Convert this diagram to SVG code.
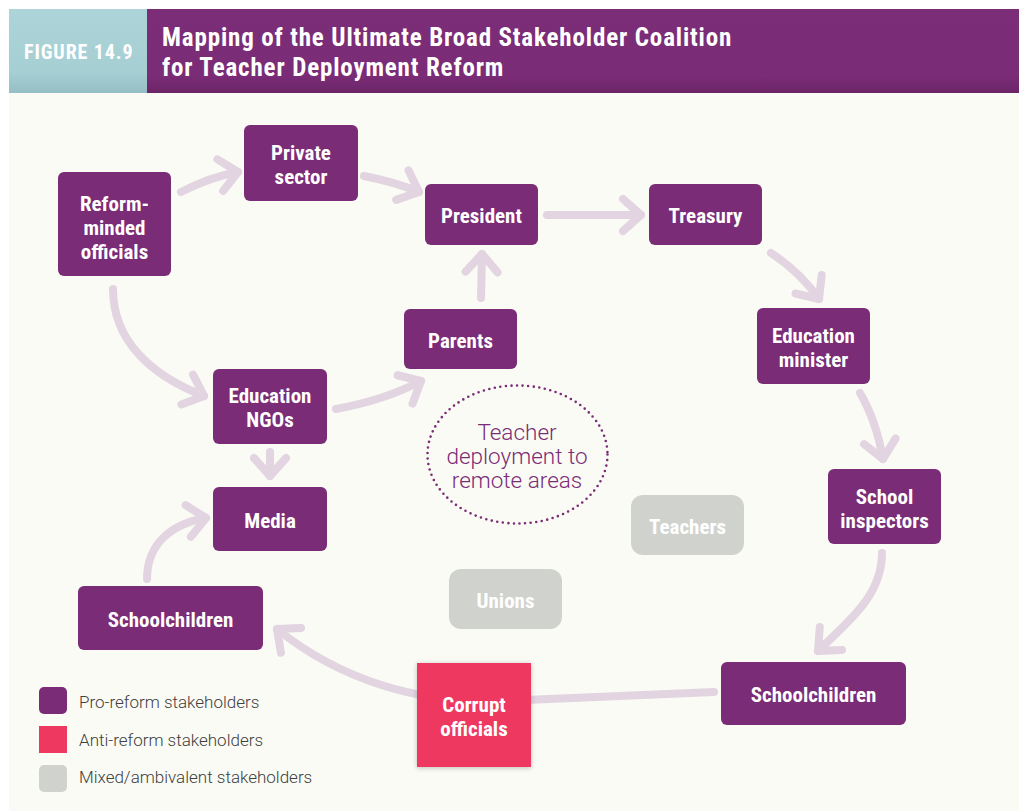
<svg xmlns="http://www.w3.org/2000/svg" width="1019" height="811" viewBox="0 0 1019 811">
<defs>
<linearGradient id="figGrad" x1="0" y1="0" x2="0" y2="1">
<stop offset="0" stop-color="#acd4d9"/><stop offset="0.75" stop-color="#a6cfd4"/><stop offset="1" stop-color="#96bfc5"/>
</linearGradient>
<linearGradient id="titleGrad" x1="0" y1="0" x2="0" y2="1">
<stop offset="0" stop-color="#7c2d78"/><stop offset="0.8" stop-color="#7a2c76"/><stop offset="1" stop-color="#6c2468"/>
</linearGradient>
<filter id="shadow" x="-20%" y="-20%" width="140%" height="140%">
<feGaussianBlur in="SourceAlpha" stdDeviation="2.5"/>
<feOffset dx="0" dy="1" result="b"/>
<feComponentTransfer><feFuncA type="linear" slope="0.25"/></feComponentTransfer>
<feMerge><feMergeNode/><feMergeNode in="SourceGraphic"/></feMerge>
</filter>
<marker id="ah" markerUnits="userSpaceOnUse" markerWidth="60" markerHeight="60" viewBox="-30 -30 60 60" refX="0" refY="0" orient="auto" overflow="visible">
<path d="M -18 -16 L 0 0 L -18 16" fill="none" stroke="#e2d4e0" stroke-width="8" stroke-linecap="round" stroke-linejoin="round"/>
</marker>
</defs>
<style>
.conn{fill:none;stroke:#e2d4e0;stroke-width:8;stroke-linecap:round;stroke-linejoin:round}
.arr{marker-end:url(#ah)}
.pro{fill:#7a2c77}
.anti{fill:#ef3860}
.mixed{fill:#d0d2cd}
.lbl{font-family:'Liberation Sans Narrow','Roboto Condensed','DejaVu Sans Condensed','Liberation Sans',sans-serif;font-stretch:condensed;font-weight:bold;font-size:21px;fill:#ffffff;text-anchor:middle}
.leg{font-family:Roboto,'Liberation Sans',sans-serif;font-weight:300;font-size:17px;fill:#404040}
.topic{font-family:Roboto,'Liberation Sans',sans-serif;font-weight:300;font-size:22.5px;fill:#7a2c77;text-anchor:middle}
.hdr{font-family:'Liberation Sans Narrow','Roboto Condensed','DejaVu Sans Condensed','Liberation Sans',sans-serif;font-stretch:condensed;font-weight:bold;fill:#ffffff}
</style>
<rect x="0" y="0" width="1019" height="811" fill="#ffffff"/>
<rect x="9" y="92" width="1010" height="719" fill="#fafbf4"/>
<g id="header">
<rect x="9" y="9" width="138" height="84" fill="url(#figGrad)"/>
<rect x="147" y="9" width="872" height="84" fill="url(#titleGrad)"/>
<text class="hdr" x="24" y="59" font-size="20" letter-spacing="0.9" fill="#f2f7f8">FIGURE 14.9</text>
<text class="hdr" x="162" y="46" font-size="25" letter-spacing="0.85">Mapping of the Ultimate Broad Stakeholder Coalition</text>
<text class="hdr" x="162" y="76" font-size="25" letter-spacing="0.85">for Teacher Deployment Reform</text>
</g>
<g id="connectors">
<path class="conn arr" d="M 181 192 Q 210 177 238 172"/>
<path class="conn arr" d="M 364 176 Q 395 182 419 192"/>
<path class="conn arr" d="M 547 215 L 641 215"/>
<path class="conn arr" d="M 771 253 Q 800 272 819 299"/>
<path class="conn arr" d="M 860 393 Q 876 420 883 459"/>
<path class="conn arr" d="M 882 553 C 882 595 850 620 818 651"/>
<path class="conn arr" d="M 714 692 L 500 701 C 420 704 340 680 277 629"/>
<path class="conn arr" d="M 147 579 C 147 545 170 524 206 518"/>
<path class="conn arr" d="M 113 289 C 113 340 150 375 204 396"/>
<path class="conn arr" d="M 270 452 L 270 476"/>
<path class="conn arr" d="M 336 409 Q 385 400 421 381"/>
<path class="conn arr" d="M 481 298 L 482 254"/>
</g>
<g id="topic">
<ellipse cx="517.5" cy="454.5" rx="90" ry="69" fill="none" stroke="#7a2c77" stroke-width="2.6" stroke-linecap="round" stroke-dasharray="0 5.6"/>
<text class="topic" x="517" y="440">Teacher</text>
<text class="topic" x="517" y="464">deployment to</text>
<text class="topic" x="517" y="488">remote areas</text>
</g>
<g id="reform-minded-officials"><rect class="pro" x="58" y="172" width="113" height="104" rx="6"/><text class="lbl" x="114.5" y="211">Reform-</text><text class="lbl" x="114.5" y="235">minded</text><text class="lbl" x="114.5" y="259">officials</text></g>
<g id="private-sector"><rect class="pro" x="244" y="125" width="114" height="76" rx="6"/><text class="lbl" x="301" y="160">Private</text><text class="lbl" x="301" y="184">sector</text></g>
<g id="president"><rect class="pro" x="425" y="184" width="113" height="61" rx="6"/><text class="lbl" x="481.5" y="223">President</text></g>
<g id="treasury"><rect class="pro" x="649" y="184" width="113" height="61" rx="6"/><text class="lbl" x="705.5" y="223">Treasury</text></g>
<g id="parents"><rect class="pro" x="404" y="309" width="113" height="60" rx="6"/><text class="lbl" x="460.5" y="348">Parents</text></g>
<g id="education-minister"><rect class="pro" x="757" y="308" width="113" height="76" rx="6"/><text class="lbl" x="813.5" y="343">Education</text><text class="lbl" x="813.5" y="367">minister</text></g>
<g id="school-inspectors"><rect class="pro" x="828" y="469" width="113" height="75" rx="6"/><text class="lbl" x="884.5" y="504">School</text><text class="lbl" x="884.5" y="528">inspectors</text></g>
<g id="schoolchildren-right"><rect class="pro" x="721" y="662" width="185" height="63" rx="6"/><text class="lbl" x="813.5" y="702">Schoolchildren</text></g>
<g id="education-ngos"><rect class="pro" x="213" y="369" width="114" height="75" rx="6"/><text class="lbl" x="270" y="403">Education</text><text class="lbl" x="270" y="427">NGOs</text></g>
<g id="media"><rect class="pro" x="213" y="487" width="114" height="64" rx="6"/><text class="lbl" x="270" y="528">Media</text></g>
<g id="schoolchildren-left"><rect class="pro" x="78" y="586" width="185" height="64" rx="6"/><text class="lbl" x="170.5" y="627">Schoolchildren</text></g>
<g id="corrupt-officials"><rect class="anti" x="417" y="663" width="114" height="104" filter="url(#shadow)"/><text class="lbl" x="474" y="712">Corrupt</text><text class="lbl" x="474" y="736">officials</text></g>
<g id="teachers"><rect class="mixed" x="631" y="495" width="113" height="60" rx="12"/><text class="lbl" x="687.5" y="534">Teachers</text></g>
<g id="unions"><rect class="mixed" x="449" y="569" width="113" height="60" rx="12"/><text class="lbl" x="505.5" y="608">Unions</text></g>
<g id="legend">
<rect class="pro" x="39" y="687" width="28" height="27" rx="5"/>
<text class="leg" x="79" y="708">Pro-reform stakeholders</text>
<rect class="anti" x="39" y="726" width="28" height="27"/>
<text class="leg" x="79" y="746">Anti-reform stakeholders</text>
<rect class="mixed" x="39" y="765" width="28" height="27" rx="5"/>
<text class="leg" x="79" y="783">Mixed/ambivalent stakeholders</text>
</g>
</svg>
